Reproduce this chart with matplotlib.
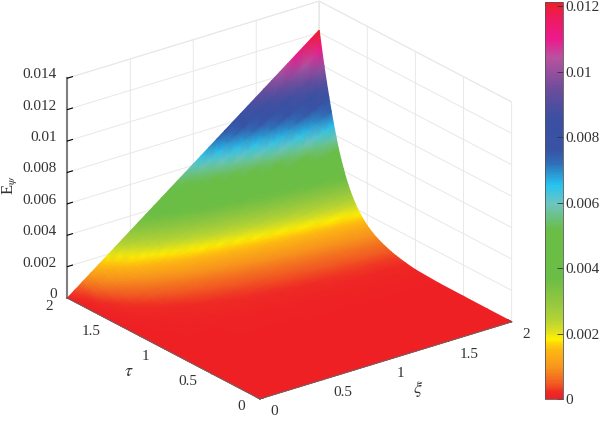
import numpy as np
import matplotlib
matplotlib.use('Agg')
import matplotlib.pyplot as plt
from matplotlib.colors import LinearSegmentedColormap, Normalize
from matplotlib.cm import ScalarMappable
from mpl_toolkits.mplot3d import proj3d

# values
tau = [0, 0.25, 0.5, 0.75, 1.0, 1.1, 1.2, 1.225, 1.25, 1.275, 1.3, 1.325, 1.35, 1.375, 1.4,
       1.425, 1.45, 1.475, 1.5, 1.525, 1.55, 1.575, 1.6, 1.625, 1.65, 1.675, 1.7, 1.725,
       1.75, 1.775, 1.8, 1.825, 1.85, 1.875, 1.9, 1.925, 1.95, 1.975, 2.0]
edge_xi2 = [0, 0, 0.00001, 0.00002, 0.0001, 0.0002, 0.00034, 0.00038, 0.00043, 0.00049, 0.00055,
            0.00061, 0.00068, 0.00075, 0.00084, 0.00093, 0.00104, 0.00116, 0.00129, 0.00145,
            0.00162, 0.00182, 0.00204, 0.00229, 0.00258, 0.0029, 0.00326, 0.00368, 0.00415,
            0.00466, 0.00523, 0.0059, 0.00662, 0.00739, 0.00823, 0.0091, 0.01004, 0.01105,
            0.01215]
xi = [0, 0.0625, 0.125, 0.1875, 0.25, 0.3125, 0.375, 0.4375, 0.5, 0.5625, 0.625, 0.6875,
      0.75, 0.8125, 0.875, 0.9375, 1.0, 1.0625, 1.125, 1.1875, 1.25, 1.3125, 1.375, 1.4375,
      1.5, 1.5625, 1.625, 1.6875, 1.75, 1.8125, 1.875, 1.9375, 2.0]
xi_share = [0, 0.03125, 0.0625, 0.09375, 0.125, 0.15625, 0.1875, 0.21875, 0.25, 0.28125,
            0.3125, 0.34375, 0.375, 0.40625, 0.4375, 0.46875, 0.5, 0.53125, 0.5625, 0.59375,
            0.625, 0.65625, 0.6875, 0.71875, 0.75, 0.78125, 0.8125, 0.84375, 0.875, 0.90625,
            0.9375, 0.96875, 1.0]

xy_ticks = [0, 0.5, 1, 1.5, 2]
xy_labels = ['0', '0.5', '1', '1.5', '2']
z_ticks = [0, 0.002, 0.004, 0.006, 0.008, 0.01, 0.012, 0.014]
z_labels = ['0', '0.002', '0.004', '0.006', '0.008', '0.01', '0.012', '0.014']
cb_ticks = [0, 0.002, 0.004, 0.006, 0.008, 0.01, 0.012]
cb_labels = ['0', '0.002', '0.004', '0.006', '0.008', '0.01', '0.012']

cmap_vals = [0, 0.0002, 0.00045, 0.00095, 0.0015, 0.00172, 0.00182, 0.00205, 0.0024, 0.0029, 0.0037,
             0.0045, 0.00516, 0.00597, 0.00653, 0.0072, 0.0076, 0.0086, 0.00944, 0.01045, 0.011,
             0.0117, 0.01215]
cmap_cols = ['#ee2024', '#ee2a25', '#f15a22', '#f7941d', '#fdb913', '#fedb06', '#fff200', '#dfe01f',
             '#b5d334', '#96c83f', '#6abd45', '#6abd45', '#6abd45', '#6dc5c0', '#27c4f0', '#2f6fb7',
             '#3853a4', '#3b50a2', '#6a4c9c', '#b9529f', '#ec1a8e', '#ee1a5a', '#ee2024']

plt.rcParams['font.family'] = 'Liberation Serif'
plt.rcParams['font.size'] = 11
plt.rcParams['mathtext.fontset'] = 'stix'
plt.rcParams['grid.color'] = '#e8e8e8'
plt.rcParams['grid.linewidth'] = 0.7
txt_col = '#333333'

vmax = cmap_vals[-1]
cmap = LinearSegmentedColormap.from_list('rb', [(v / vmax, c) for v, c in zip(cmap_vals, cmap_cols)], N=512)
norm = Normalize(0, vmax)

fig = plt.figure(figsize=(6, 4.22), dpi=100)
S = 520
ax = fig.add_axes([22.5 / 600, -45 / 422, S / 600, S / 422], projection='3d', proj_type='ortho')
ax.view_init(elev=23.6, azim=-127.4)
ax.set_box_aspect((317, 317, 240), zoom=0.949)
ax.set_xlim(0, 2, view_margin=0)
ax.set_ylim(0, 2, view_margin=0)
ax.set_zlim(0, 0.014, view_margin=0)
ax.patch.set_alpha(0)

ax.set_xticks(xy_ticks, [''] * len(xy_ticks))
ax.set_yticks(xy_ticks, [''] * len(xy_ticks))
ax.set_zticks(z_ticks, [''] * len(z_ticks))
for a in [ax.xaxis, ax.yaxis, ax.zaxis]:
    a.set_pane_color((1, 1, 1, 1))
    a.pane.set_edgecolor('#e8e8e8')
    a.pane.set_linewidth(0.7)
    a.line.set_color('#808080')
    a._axinfo['tick']['color'] = '#808080'
    a._axinfo['tick']['inward_factor'] = 0
    a._axinfo['tick']['outward_factor'] = 0.25
ax.zaxis.line.set_linewidth(1.5)

M = ax.get_proj()

# surface with smooth shading, drawn on top in the projected coordinates of ax
X, Y = np.meshgrid(xi, tau)
Z = np.outer(edge_xi2, xi_share)
xp, yp, _ = proj3d.proj_transform(X.ravel(), Y.ravel(), Z.ravel(), M)
xp = np.asarray(xp).reshape(X.shape)
yp = np.asarray(yp).reshape(X.shape)

ov = fig.add_axes(ax.get_position(), zorder=5)
ov.set_axis_off()
ov.pcolormesh(xp, yp, Z, shading='gouraud', cmap=cmap, norm=norm, transform=ax.transData, clip_on=False)

# front edges of the floor stay visible over the surface
ex, ey, _ = proj3d.proj_transform(np.array([2, 0, 0]), np.array([0, 0, 2]), np.array([0, 0, 0]), M)
ov.plot(ex, ey, color='#666666', lw=0.6, transform=ax.transData, clip_on=False)

# tick labels, pixel offset from their tick
def tick_label(x, y, z, s, dx, dy, ha):
    px, py, _ = proj3d.proj_transform(x, y, z, M)
    ov.annotate(s, xy=(px, py), xycoords=ax.transData, xytext=(dx, dy), textcoords='offset pixels',
                ha=ha, va='center', color=txt_col, annotation_clip=False)

for t, s in zip(xy_ticks, xy_labels):
    tick_label(t, 0, 0, s, 10.5, -13, 'left')
    tick_label(0, t, 0, s, -14.5, -8, 'right')
for t, s in zip(z_ticks, z_labels):
    tick_label(0, 2, t, s, -10.5, 3.5, 'right')

# colorbar
cax = fig.add_axes([545 / 600, (422 - 399) / 422, 18 / 600, 397.5 / 422], zorder=6)
cb = fig.colorbar(ScalarMappable(norm=norm, cmap=cmap), cax=cax)
cb.set_ticks(cb_ticks, labels=cb_labels)
cb.ax.tick_params(direction='in', length=4, width=0.6, color='#333333', labelcolor=txt_col, pad=2)
cb.outline.set_edgecolor('#555555')
cb.outline.set_linewidth(0.6)

fig.text(10 / 600, 1 - 185 / 422, r'E$_{\psi}$', rotation=90, ha='center', va='center', color=txt_col, fontsize=12)
fig.text(129 / 600, 1 - 372 / 422, r'$\tau$', ha='center', va='center', color=txt_col, fontsize=13)
fig.text(418 / 600, 1 - 389 / 422, r'$\xi$', ha='center', va='center', color=txt_col, fontsize=13)

fig.savefig('out.png', dpi=100)
